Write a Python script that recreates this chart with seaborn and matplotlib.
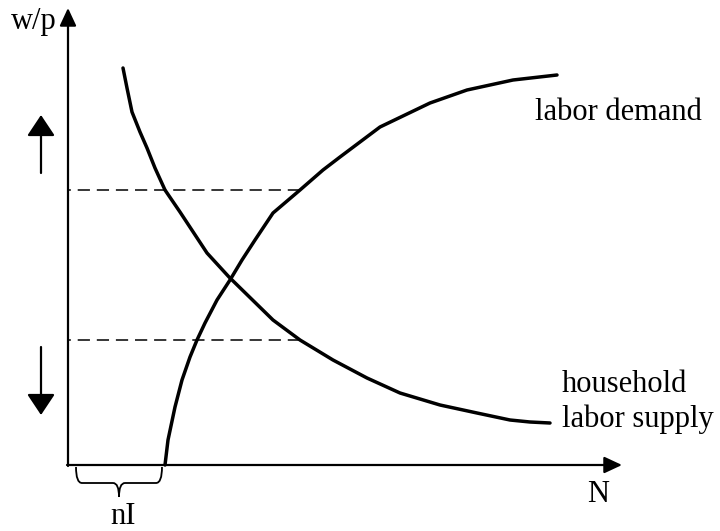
import numpy as np
import pandas as pd
import seaborn as sns
import matplotlib.pyplot as plt
from matplotlib.patches import FancyArrowPatch, ArrowStyle, PathPatch
from matplotlib.path import Path

# curve points (N, w/p)
demand_N = [97, 100, 107, 114, 122, 129, 137, 149, 162, 174, 187, 205, 232, 255, 272, 312, 362, 399, 445, 489]
demand_w = [0, 25, 58, 85, 108, 125, 142, 165, 185, 205, 225, 252, 275, 295, 308, 338, 362, 375, 385, 390]

supply_N = [55, 59, 64, 72, 79, 87, 97, 112, 139, 161, 205, 232, 265, 299, 332, 372, 409, 442, 462, 482]
supply_w = [397, 377, 353, 333, 317, 297, 275, 253, 212, 188, 145, 125, 105, 87, 72, 60, 52, 45, 43, 42]

# the two wage levels marked with dashes
wage_levels = [275, 125]
dash_end = 232

sns.set_theme(style='white')
plt.rcParams['font.family'] = ['Liberation Serif', 'DejaVu Serif']
plt.rcParams['text.color'] = 'black'

demand = pd.DataFrame({'N': demand_N, 'w': demand_w})
supply = pd.DataFrame({'N': supply_N, 'w': supply_w})

fig = plt.figure(figsize=(7.2, 5.31), dpi=100)
ax = fig.add_axes([0, 0, 1, 1])
ax.set_xlim(-68, 652)
ax.set_ylim(-66, 465)
ax.axis('off')

sns.lineplot(data=demand, x='N', y='w', sort=False, color='black', lw=2.5, ax=ax, estimator=None)
sns.lineplot(data=supply, x='N', y='w', sort=False, color='black', lw=2.5, ax=ax, estimator=None)

# dashes drawn from the curve side so the pattern ends on a dash at the curve
for w in wage_levels:
    ax.plot([dash_end, 0], [w, w], color='black', lw=1.1, ls=(0, (8, 4.5)))


def arrow(p0, p1, hl, hw, lw):
    style = ArrowStyle('-|>', head_length=hl * 0.72, head_width=hw * 0.72)
    a = FancyArrowPatch(p0, p1, arrowstyle=style, mutation_scale=1, lw=lw,
                        color='black', shrinkA=0, shrinkB=0)
    ax.add_patch(a)


# axes with arrow heads
arrow((0, -1), (0, 457), 15, 7, 1.6)
arrow((-1, 0), (554, 0), 15, 7, 1.6)

# up / down arrows on the left
arrow((-27, 292), (-27, 350), 18, 12, 1.6)
arrow((-27, 118), (-27, 50), 18, 12, 1.6)

# brace under the axis
verts = [(8, -2), (8, -18), (14, -18), (45, -18), (51, -18), (51, -32),
         (51, -32), (51, -18), (57, -18), (88, -18), (94, -18), (94, -2)]
codes = [Path.MOVETO, Path.CURVE3, Path.CURVE3, Path.LINETO, Path.CURVE3, Path.CURVE3,
         Path.MOVETO, Path.CURVE3, Path.CURVE3, Path.LINETO, Path.CURVE3, Path.CURVE3]
ax.add_patch(PathPatch(Path(verts, codes), fill=False, lw=1.3, color='black'))

fs = 22
ax.text(-11, 443, 'w/p', fontsize=fs, ha='right', va='center')
ax.text(530, -30, 'N', fontsize=fs, ha='center', va='center')
ax.text(55, -52, 'nI', fontsize=fs, ha='center', va='center')
ax.text(467, 352, 'labor demand', fontsize=fs, ha='left', va='center')
ax.text(494, 63, 'household\nlabor supply', fontsize=fs, ha='left', va='center')

plt.savefig('out.png', dpi=100)
